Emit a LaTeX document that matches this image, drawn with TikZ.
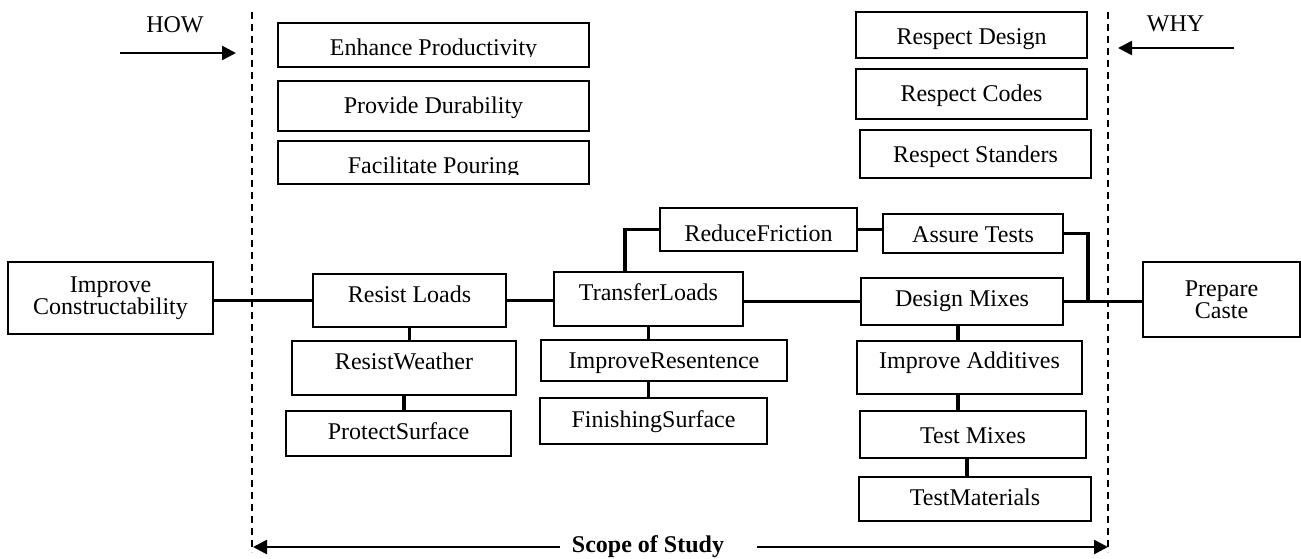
\documentclass[tikz,border=0pt]{standalone}
\usepackage{fontspec}
\setmainfont{Liberation Serif}
\usetikzlibrary{arrows.meta,calc}
\begin{document}
\begin{tikzpicture}[x=1pt,y=-1pt,
  box/.style={draw, line width=1.8pt, inner sep=0pt, font=\fontsize{24}{22}\selectfont},
  tb/.style={text height=#1, text depth=0pt},
  conn/.style={line width=3.5pt},
  arr/.style={line width=2.5pt, -{Triangle[length=14pt,width=14pt]}},
  guide/.style={line width=1.6pt, dash pattern=on 7pt off 5pt},
  lbl/.style={font=\fontsize{24}{22}\selectfont, inner sep=0pt, anchor=base}]
\useasboundingbox (0,0) rectangle (1301,559);

% scope guides
\coordinate (gl1) at (252,12);
\coordinate (gl2) at (252,552);
\coordinate (gr1) at (1108,12);
\coordinate (gr2) at (1108,552);
\draw[guide] (gl1) -- (gl2);
\draw[guide] (gr1) -- (gr2);

% HOW / WHY
\node[lbl] (how) at (175,33) {HOW};
\node[lbl] (why) at (1175.5,32) {WHY};
\coordinate (howA) at (120,53);
\coordinate (howB) at (236,53);
\coordinate (whyA) at (1234,48);
\coordinate (whyB) at (1118,48);
\draw[arr] (howA) -- (howB);
\draw[arr] (whyA) -- (whyB);

% top-left boxes
\node[box, minimum width=311pt, minimum height=44pt] (ep) at (433.5,45) {};
\begin{scope}
\clip (278,23) rectangle (589,57);
\node[lbl] (ept) at (433.5,56) {Enhance Productivity};
\end{scope}
\node[box, minimum width=311pt, minimum height=50pt, tb=15pt] (pd) at (433.5,106) {Provide Durability};
\node[box, minimum width=311pt, minimum height=43pt] (fp) at (433.5,162.5) {};
\begin{scope}
\clip (278,141) rectangle (589,174);
\node[lbl] (fpt) at (433.5,173.5) {Facilitate Pouring};
\end{scope}

% top-right boxes
\node[box, minimum width=231pt, minimum height=46pt, tb=20pt] (rd) at (971.5,35) {Respect Design};
\node[box, minimum width=231pt, minimum height=50pt, tb=16pt] (rc) at (971.5,94) {Respect Codes};
\node[box, minimum width=231pt, minimum height=48pt, tb=18pt] (rs) at (975.5,154) {Respect Standers};

% main chain
\node[box, minimum width=205pt, minimum height=72pt, align=center] (ic) at (110.5,298) {Improve\\Constructability};
\node[box, minimum width=193pt, minimum height=53pt, tb=3pt] (rl) at (409.5,300.5) {Resist Loads};
\node[box, minimum width=224pt, minimum height=54pt, tb=2pt] (rw) at (404,368) {ResistWeather};
\node[box, minimum width=225pt, minimum height=45pt, tb=11pt] (ps) at (398.5,433.5) {ProtectSurface};
\node[box, minimum width=189pt, minimum height=54pt, tb=2pt] (tl) at (648.5,299) {TransferLoads};
\node[box, minimum width=246pt, minimum height=41pt, tb=15pt] (ir) at (664,360.5) {ImproveResentence};
\node[box, minimum width=227pt, minimum height=46pt, tb=12pt] (fs) at (653.5,421) {FinishingSurface};
\node[box, minimum width=197pt, minimum height=43pt, tb=23pt] (rf) at (758.5,229.5) {ReduceFriction};
\node[box, minimum width=180pt, minimum height=39pt, tb=17pt] (at) at (973,233.5) {Assure Tests};
\node[box, minimum width=202pt, minimum height=47pt, tb=9pt] (dm) at (962,301.5) {Design Mixes};
\node[box, minimum width=225pt, minimum height=53pt, tb=1pt] (ia) at (969.5,367.5) {Improve Additives};
\node[box, minimum width=226pt, minimum height=47pt, tb=17pt] (tm) at (973,434.5) {Test Mixes};
\node[box, minimum width=232pt, minimum height=44pt, tb=12pt] (tmat) at (975,499) {TestMaterials};
\node[box, minimum width=157pt, minimum height=75pt, align=center] (pc) at (1221.5,299.5) {Prepare\\Caste};

% connectors
\draw[conn] (ic.east |- rl.west) -- (rl.west);
\draw[conn] (rl.east) -- (rl.east -| tl.west);
\draw[conn] (tl.east |- dm.west) -- (dm.west);
\draw[conn] (dm.east) -- (dm.east -| pc.west);
\draw[conn] (at.east) -| ([xshift=24pt]dm.east);
\draw[conn] (rf.east) -- (rf.east -| at.west);
\draw[conn] ([xshift=-23.5pt]tl.north) |- (rf.west);
\draw[conn] (rl.south) -- (rl.south |- rw.north);
\draw[conn] (rw.south) -- (rw.south |- ps.north);
\draw[conn] (tl.south) -- (tl.south |- ir.north);
\draw[conn] (tl.south |- ir.south) -- (tl.south |- fs.north);
\draw[conn] ([xshift=-4pt]dm.south) -- ([xshift=-4pt]dm.south |- ia.north);
\draw[conn] ([xshift=-11.5pt]ia.south) -- ([xshift=-11.5pt]ia.south |- tm.north);
\draw[conn] ([xshift=-6pt]tm.south) -- ([xshift=-6pt]tm.south |- tmat.north);

% scope of study
\node[lbl, font=\fontsize{24}{22}\selectfont\bfseries] (sos) at (648,552) {Scope of Study};
\coordinate (sosL) at (560,547);
\coordinate (sosR) at (757,547);
\coordinate (sosLt) at (253,547);
\coordinate (sosRt) at (1108,547);
\draw[arr] (sosL) -- (sosLt);
\draw[arr] (sosR) -- (sosRt);
\end{tikzpicture}
\end{document}
